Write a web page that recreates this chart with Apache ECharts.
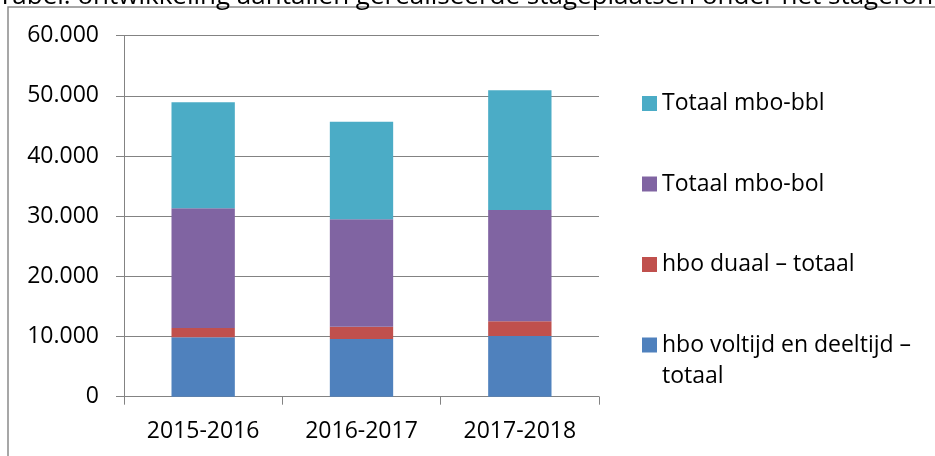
<!DOCTYPE html>
<html>
<head>
    <meta charset="utf-8">
    <title>Stageplaatsen stagefonds</title>
    <script src="https://cdn.jsdelivr.net/npm/echarts@6.0.0/dist/echarts.min.js"></script>
    <style>
        html, body { margin: 0; padding: 0; background: #fff; }
    </style>
</head>
<body>
    <div id="main" style="width: 935px;height:456px;"></div>

<script>
// data
const categories = ['2015-2016', '2016-2017', '2017-2018'];
const hboVoltijd = [9870, 9590, 10090];
const hboDuaal = [1550, 2040, 2440];
const mboBol = [19890, 17850, 18500];
const mboBbl = [17620, 16220, 19890];

const names = {
    voltijd: 'hbo voltijd en deeltijd – totaal',
    duaal: 'hbo duaal – totaal',
    bol: 'Totaal mbo-bol',
    bbl: 'Totaal mbo-bbl'
};
const titleText = 'Tabel: ontwikkeling aantallen gerealiseerde stageplaatsen onder het stagefonds';

const FONT = '"Open Sans", "Noto Sans", sans-serif';
const GRID_COLOR = '#838383';

let myChart;

// 60000 -> 60.000
function nlNumber(v) {
    if (v === 0) return '0';
    return (v / 1000) + '.000';
}

function legendText() {
    return { color: '#000', fontFamily: FONT, fontSize: 23, lineHeight: 31 };
}

function initChart() {
    myChart = echarts.init(document.getElementById('main'));

    const option = {
        animation: false,
        color: ['#4F81BD', '#C0504D', '#8064A2', '#4BACC6'],
        textStyle: { fontFamily: FONT },
        graphic: [
            {
                type: 'rect',
                shape: { x: 8, y: 7, width: 1000, height: 500 },
                style: { fill: 'none', stroke: '#8a8a8a', lineWidth: 1.5 },
                silent: true
            },
            {
                type: 'text',
                x: -2,
                y: -3,
                style: {
                    text: titleText,
                    fontFamily: FONT,
                    fontSize: 26,
                    fill: '#000',
                    verticalAlign: 'middle'
                },
                silent: true
            }
        ],
        grid: {
            left: 124,
            right: 336,
            top: 35.7,
            bottom: 59.3,
            containLabel: false,
            outerBoundsMode: 'none'
        },
        legend: [
            {
                orient: 'vertical',
                left: 637,
                top: 83,
                itemGap: 49.5,
                itemWidth: 15,
                itemHeight: 15,
                icon: 'rect',
                selectedMode: false,
                textStyle: legendText(),
                data: [names.bbl, names.bol, names.duaal]
            },
            {
                orient: 'vertical',
                left: 637,
                top: 293.5,
                itemWidth: 15,
                itemHeight: 15,
                icon: 'rect',
                selectedMode: false,
                textStyle: legendText(),
                // empty first line keeps the icon level with the first text line
                formatter: (name) => '\n' + name.replace(' – ', ' –\n'),
                data: [names.voltijd]
            }
        ],
        xAxis: {
            type: 'category',
            data: categories,
            axisLine: { show: true, lineStyle: { color: GRID_COLOR, width: 1 } },
            axisTick: { show: true, length: 8, inside: false, lineStyle: { color: GRID_COLOR } },
            axisLabel: {
                color: '#000',
                fontFamily: FONT,
                fontSize: 23,
                margin: 23
            },
            splitLine: { show: false }
        },
        yAxis: {
            type: 'value',
            min: 0,
            max: 60000,
            interval: 10000,
            axisLine: { show: true, lineStyle: { color: GRID_COLOR, width: 1 } },
            axisTick: { show: true, length: 8, inside: false, lineStyle: { color: GRID_COLOR } },
            axisLabel: {
                color: '#000',
                fontFamily: FONT,
                fontSize: 23,
                margin: 25,
                formatter: nlNumber
            },
            splitLine: { show: true, lineStyle: { color: GRID_COLOR, width: 1 } }
        },
        series: [
            { name: names.voltijd, type: 'bar', stack: 'totaal', barWidth: '40%', data: hboVoltijd },
            { name: names.duaal, type: 'bar', stack: 'totaal', data: hboDuaal },
            { name: names.bol, type: 'bar', stack: 'totaal', data: mboBol },
            { name: names.bbl, type: 'bar', stack: 'totaal', data: mboBbl }
        ]
    };
    myChart.setOption(option);
}

window.onload = () => {
    initChart();
};
</script>
</body>
</html>
